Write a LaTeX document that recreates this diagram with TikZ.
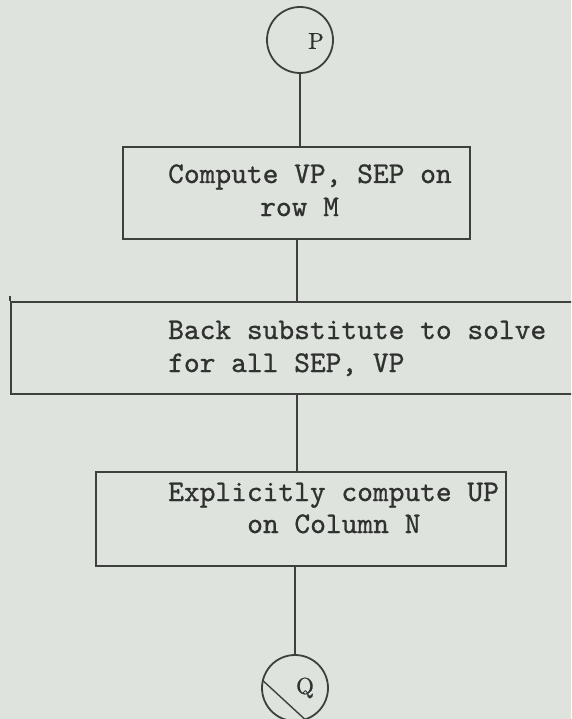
\documentclass[tikz,border=0pt]{standalone}
\usepackage{fontspec}
\usetikzlibrary{calc}
\newfontfamily\twfont{lmmono10-regular.otf}[FakeBold=0.9]
\newfontfamily\mkfont{lmroman10-regular.otf}[FakeBold=0.8]
\definecolor{paper}{RGB}{222,227,221}
\definecolor{ink}{RGB}{62,64,62}
\definecolor{type}{RGB}{48,50,48}
\begin{document}
\begin{tikzpicture}[x=1pt,y=-1pt,
  stroke/.style={draw=ink, line width=1.8pt},
  procbox/.style={stroke, rectangle, inner sep=0pt},
  connector/.style={stroke, circle, inner sep=0pt, minimum size=66pt},
  marklbl/.style={inner sep=0pt, text=type,
    font=\fontsize{23}{23}\selectfont\mkfont},
  flowline/.style={draw=ink, line width=1.6pt},
  tw/.style={anchor=base west, inner sep=0pt, text=type,
    font=\fontsize{30}{30}\selectfont\twfont}]
  % page
  \fill[paper] (0,0) rectangle (571,719);
  \useasboundingbox (0,0) rectangle (571,719);
  \clip (0,0) rectangle (571,719);

  % connectors (off-page markers)
  \node[connector] (P) at (300,40) {};
  \node[marklbl] (Plbl) at ($(P.center)+(16,1)$) {P};
  \node[connector] (Q) at (295,688) {};
  \node[marklbl] (Qlbl) at ($(Q.center)+(10,0)$) {Q};

  % process boxes
  \node[procbox, minimum width=347pt, minimum height=92pt] (b1) at (296.5,193) {};
  \node[procbox, minimum width=629pt, minimum height=92pt] (b2) at (325.5,348) {};
  \node[procbox, minimum width=410pt, minimum height=94pt] (b3) at (301,519) {};
  % small overshoot of the left edge at the top corner
  \coordinate (b2tick) at ($(b2.north west)+(0,-5)$);
  \draw[stroke] (b2tick) -- (b2.north west);

  % box texts
  \node[tw] (t1a) at (168,183) {Compute VP, SEP on};
  \node[tw] (t1b) at (260,216) {row M};
  \node[tw] (t2a) at (168,339) {Back substitute to solve};
  \node[tw] (t2b) at (168,372) {for all SEP, VP};
  \node[tw] (t3a) at (168,501) {Explicitly compute UP};
  \node[tw] (t3b) at (247,533) {on Column N};

  % flow lines
  \coordinate (s12) at ($(b1.south)+(0.5,0)$);
  \coordinate (s23) at ($(b1.south |- b2.south)+(0.5,0)$);
  \draw[flowline] (P.south) -- (P.south |- b1.north);
  \draw[flowline] (s12) -- (s12 |- b2.north);
  \draw[flowline] (s23) -- (s23 |- b3.north);
  \draw[flowline] (b3.south -| Q.north) -- (Q.north);

  % stray pen stroke across the lower marker
  \coordinate (qs) at ($(Q.center)+(193:33)$);
  \coordinate (qe) at (310,724);
  \draw[draw=ink, line width=1.4pt] (qs) -- (qe);
\end{tikzpicture}
\end{document}
